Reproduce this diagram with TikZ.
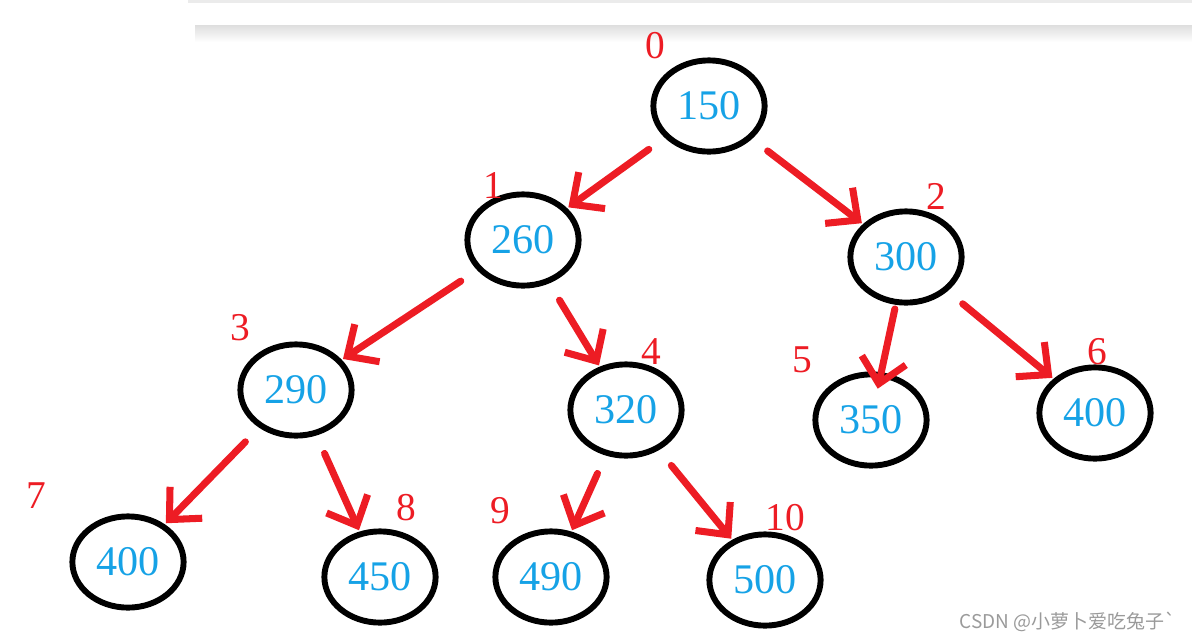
\documentclass[tikz,border=0pt]{standalone}
\usepackage{fontspec}
\setmainfont{Liberation Serif}
\newfontfamily\cjksans{Noto Sans CJK SC}
\usetikzlibrary{shapes.geometric,arrows.meta}
\definecolor{paintred}{HTML}{ED1C24}
\definecolor{paintblue}{HTML}{16A2E6}
\definecolor{markgray}{HTML}{9A9A9A}

\begin{document}
\begin{tikzpicture}[
  x=0.025cm,
  y=-0.025cm,
  heapnode/.style={ellipse, draw=black, line width=4.2pt, minimum width=2.78cm,
    minimum height=2.28cm, inner sep=0pt, text=paintblue, font=\fontsize{30}{30}\selectfont},
  idx/.style={text=paintred, inner sep=0pt, font=\fontsize{28}{28}\selectfont},
  swap/.style={draw=paintred, line width=5pt, line cap=round, line join=round,
    -{Straight Barb[length=17pt, width=32pt, line width=5pt]},
    shorten <=14pt, shorten >=1pt}
]
  \useasboundingbox (0,0) rectangle (1192,641);

  % card edge at the top
  \fill[black!8] (188,0) rectangle (1192,3);
  \shade[top color=black!13, bottom color=white] (195,25) rectangle (1192,42);

  % heap
  \node[heapnode] (n0)  at (709,106) {150};
  \node[heapnode] (n1)  at (523,240) {260};
  \node[heapnode] (n2)  at (906,257) {300};
  \node[heapnode] (n3)  at (296,390) {290};
  \node[heapnode] (n4)  at (626,410) {320};
  \node[heapnode] (n5)  at (871,420) {350};
  \node[heapnode] (n6)  at (1095,413) {400};
  \node[heapnode] (n7)  at (128,562) {400};
  \node[heapnode] (n8)  at (380,577) {450};
  \node[heapnode] (n9)  at (551,577) {490};
  \node[heapnode] (n10) at (765,580) {500};

  \node[idx] (i0)  at (655,46)  {0};
  \node[idx] (i1)  at (493,185) {1};
  \node[idx] (i2)  at (936,196) {2};
  \node[idx] (i3)  at (240,328) {3};
  \node[idx] (i4)  at (651,352) {4};
  \node[idx] (i5)  at (802,360) {5};
  \node[idx] (i6)  at (1097,352) {6};
  \node[idx] (i7)  at (36,496)  {7};
  \node[idx] (i8)  at (406,508) {8};
  \node[idx] (i9)  at (500,511) {9};
  \node[idx] (i10) at (785,518) {10};

  \draw[swap] (n0) -- (n1);
  \draw[swap] (n0) -- (n2);
  \draw[swap] (n1) -- (n3);
  \draw[swap] (n1) -- (n4);
  \draw[swap, shorten <=3pt, shorten >=-12pt] (n2) -- (n5);
  \draw[swap] (n2) -- (n6);
  \draw[swap] (n3) -- (n7);
  \draw[swap] (n3) -- (n8);
  \draw[swap] (n4) -- (n9);
  \draw[swap] (n4) -- (n10);

  \node[text=markgray, font=\cjksans\fontsize{13.5}{14}\selectfont, anchor=east] (mark)
    at (1181,622) {CSDN @小萝卜爱吃兔子`};
\end{tikzpicture}
\end{document}
